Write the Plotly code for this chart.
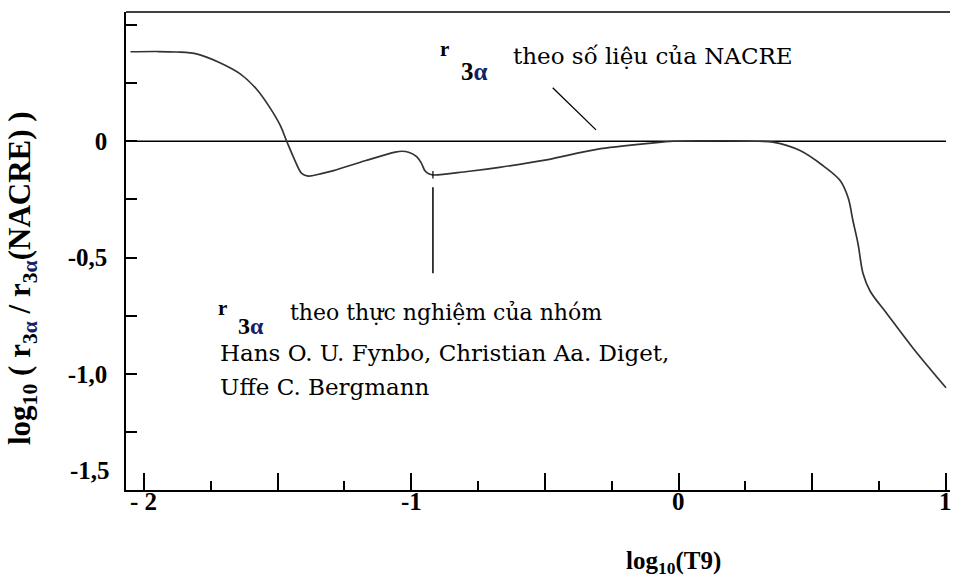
import plotly.graph_objects as go

# log10(T9) sample points and log10(r3a / r3a(NACRE)) along the curve
log_t9 = [-2.05, -1.95, -1.88, -1.80, -1.72, -1.64, -1.58, -1.53, -1.49, -1.466,
          -1.435, -1.41, -1.385, -1.34, -1.29, -1.17, -1.06, -1.035, -1.01, -0.98,
          -0.961, -0.949, -0.935, -0.918, -0.79, -0.67, -0.494, -0.306, -0.10, -0.02,
          0.10, 0.20, 0.30, 0.353, 0.454, 0.54, 0.604, 0.634, 0.652, 0.671,
          0.69, 0.716, 0.78, 0.877, 1.0]
log_ratio = [0.385, 0.386, 0.384, 0.375, 0.34, 0.29, 0.226, 0.147, 0.068, 0.0,
             -0.083, -0.138, -0.150, -0.14, -0.126, -0.083, -0.047, -0.043, -0.047, -0.066,
             -0.097, -0.127, -0.14, -0.145, -0.13, -0.112, -0.08, -0.035, -0.008, 0.0,
             0.002, 0.002, 0.0, -0.004, -0.04, -0.105, -0.169, -0.243, -0.342, -0.441,
             -0.57, -0.644, -0.743, -0.89, -1.06]

# NACRE reference (ratio = 1 -> log = 0)
nacre_x = [-2.067, 1.0]
nacre_y = [0.0, 0.0]

x_ticks = [-2, -1.5, -1, -0.5, 0, 0.5, 1]
x_ticktext = ["- 2", "", "-1", "", "0", "", "1"]
y_ticks = [0, -0.5, -1.0]
y_ticktext = ["0", "-0,5", "-1,0"]

X_RANGE = [-2.067, 1.015]
Y_RANGE = [-1.5, 0.556]

SERIF_B = "'Liberation Serif', 'Times New Roman', serif"
SERIF = "'DejaVu Serif', serif"
W, H = 959, 583
L, R, T, B = 126, 9, 12, 93


def px(xp, yp):
    """pixel position -> paper coordinates"""
    return (xp - L) / (W - L - R), (H - B - yp) / (H - T - B)


fig = go.Figure()
fig.add_trace(go.Scatter(x=nacre_x, y=nacre_y, mode="lines",
                         line=dict(color="black", width=1.6), hoverinfo="skip"))
fig.add_trace(go.Scatter(x=log_t9, y=log_ratio, mode="lines",
                         line=dict(color="#333333", width=1.7, shape="spline", smoothing=1.0)))

# pointer lines
fig.add_shape(type="line", x0=-0.471, y0=0.23, x1=-0.309, y1=0.049,
              line=dict(color="black", width=1.3))
fig.add_shape(type="line", x0=-0.919, y0=-0.198, x1=-0.919, y1=-0.568,
              line=dict(color="black", width=1.5))
fig.add_shape(type="line", x0=-0.919, y0=-0.128, x1=-0.919, y1=-0.16,
              line=dict(color="black", width=1.2))
# top border
fig.add_shape(type="line", xref="paper", yref="paper", x0=0, y0=1, x1=1, y1=1,
              line=dict(color="black", width=1.5))

ann = []


def text(s, xp, yp, size, bold=False, anchor="center", family=SERIF):
    x, y = px(xp, yp)
    ann.append(dict(text=f"<b>{s}</b>" if bold else s, x=x, y=y, xref="paper", yref="paper",
                    xanchor=anchor, yanchor="middle", showarrow=False,
                    font=dict(family=family, size=size, color="black")))


alpha = "<span style='color:#14206a'>α</span>"
# NACRE label
text("r", 444, 49, 21, bold=True, family=SERIF_B)
text("3" + alpha, 474, 71, 25, bold=True, family=SERIF_B)
text("theo số liệu của NACRE", 511, 56, 23, anchor="left")
# experimental label
text("r", 222, 308, 21, bold=True, family=SERIF_B)
text("3" + alpha, 251, 326, 24, bold=True, family=SERIF_B)
text("theo thực nghiệm của nhóm", 288, 312, 22, anchor="left")
text("Hans O. U. Fynbo, Christian Aa. Diget,", 218, 353, 23, anchor="left")
text("Uffe C. Bergmann", 218, 387, 23, anchor="left")

# x tick labels placed just under the axis
for v, s in zip(x_ticks, x_ticktext):
    if s:
        ann.append(dict(text=f"<b>{s}</b>", x=v, y=0, xref="x", yref="paper",
                        xanchor="center", yanchor="middle", yshift=-11, showarrow=False,
                        font=dict(family=SERIF_B, size=25, color="black")))
# lowest y tick label sits above the axis corner
text("-1,5", 90, 470, 25, bold=True, family=SERIF_B)
# axis titles
text("log<sub>10</sub>(T9)", 673, 562, 25, bold=True, family=SERIF_B)
x, y = px(22, 278)
ann.append(dict(text="<b>log<sub>10</sub> ( r<sub>3" + alpha + "</sub> / r<sub>3" + alpha +
                     "</sub>(NACRE) )</b>",
                x=x, y=y, xref="paper", yref="paper", textangle=-90, showarrow=False,
                xanchor="center", yanchor="middle",
                font=dict(family=SERIF_B, size=31, color="black")))

fig.update_layout(
    width=W, height=H, margin=dict(l=L, r=R, t=T, b=B),
    plot_bgcolor="white", paper_bgcolor="white", showlegend=False,
    annotations=ann,
    xaxis=dict(range=X_RANGE, showgrid=False, zeroline=False, showline=True,
               linecolor="black", linewidth=1.5, ticks="inside", ticklen=17, tickwidth=1.5,
               tickcolor="black", tickvals=x_ticks, showticklabels=False,
               minor=dict(ticks="inside", tick0=-2, dtick=0.25, ticklen=9,
                          tickwidth=1.5, tickcolor="black")),
    yaxis=dict(range=Y_RANGE, showgrid=False, zeroline=False, showline=True,
               linecolor="black", linewidth=1.5, ticks="inside", ticklen=11, tickwidth=1.5,
               tickcolor="black", tickvals=y_ticks, ticktext=y_ticktext,
               tickfont=dict(family=SERIF_B, size=25, color="black", weight="bold"),
               ticklabelstandoff=12,
               minor=dict(ticks="inside", tick0=0, dtick=0.25, ticklen=11,
                          tickwidth=1.5, tickcolor="black")),
)

fig.write_html("out.html")
